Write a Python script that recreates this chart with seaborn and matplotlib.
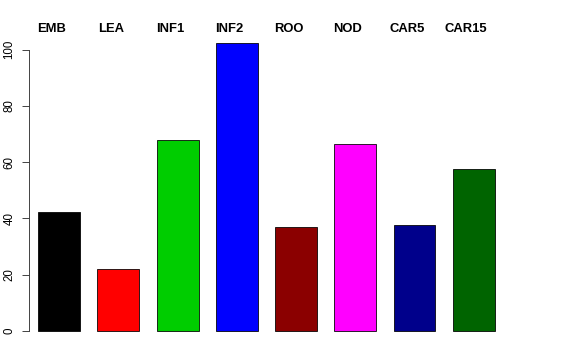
import matplotlib
matplotlib.use("Agg")
import matplotlib.pyplot as plt
import seaborn as sns
import pandas as pd

categories = ["EMB", "LEA", "INF1", "INF2", "ROO", "NOD", "CAR5", "CAR15"]
values = [42.4, 22.0, 68.0, 102.4, 37.0, 66.4, 37.6, 57.6]
colors = ["#000000", "#FF0000", "#00CD00", "#0000FF", "#8B0000", "#FF00FF", "#00008B", "#006400"]
yticks = [0, 20, 40, 60, 80, 100]

sns.set_theme(style="white")
plt.rcParams["font.family"] = ["Liberation Sans", "DejaVu Sans"]

df = pd.DataFrame({"cat": categories, "val": values})

fig = plt.figure(figsize=(8, 5), dpi=72)
ax = fig.add_axes([0.0503, 0.0486, 0.8247, 0.8639])

sns.barplot(data=df, x="cat", y="val", hue="cat", palette=colors, order=categories,
            hue_order=categories, legend=False, width=0.709, edgecolor="black",
            linewidth=0.8, saturation=1, ax=ax)

ax.set_xlim(-0.5115, 7.5115)
ax.set_ylim(-4.09, 106.4)
for s in ["top", "right", "bottom"]:
    ax.spines[s].set_visible(False)
ax.spines["left"].set_bounds(0, 100)
ax.spines["left"].set_color("#333333")
ax.spines["left"].set_linewidth(0.9)
ax.set_xticks([])
ax.set_yticks(yticks)
ax.set_yticklabels([str(t) for t in yticks], rotation=90, va="center", fontsize=11.5, color="black")
ax.tick_params(axis="y", direction="out", length=7.5, width=0.9, color="#333333", pad=6, left=True)
ax.set_xlabel("")
ax.set_ylabel("")

for i, c in enumerate(categories):
    ax.text(i - 0.13, 107.35, c, ha="center", va="center", fontsize=13,
            fontweight="bold", color="black", clip_on=False)

fig.savefig("out.png", dpi=72)
